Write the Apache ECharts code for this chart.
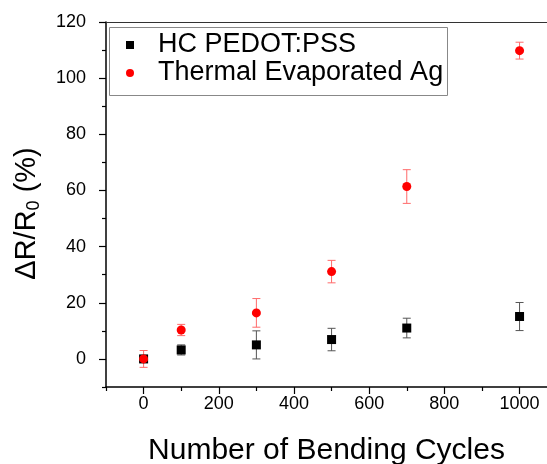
<!DOCTYPE html>
<html>
<head>
<meta charset="utf-8">
<script src="https://cdn.jsdelivr.net/npm/echarts@6/dist/echarts.min.js"></script>
<style>
  html, body { margin: 0; padding: 0; background: #fff; }
  #chart { width: 547px; height: 464px; }
</style>
</head>
<body>
<div id="chart"></div>
<script>
// 数据
const cycles = [0, 100, 300, 500, 700, 1000]
const pedot = [0, 3.2, 5.0, 6.9, 11.0, 15.1]
const pedotErr = [1.0, 1.8, 5.0, 4.0, 3.5, 5.0]
const ag = [0, 10.3, 16.4, 31.1, 61.4, 109.8]
const agErr = [3.0, 2.0, 5.1, 4.0, 6.0, 3.0]
const xTicks = [0, 200, 400, 600, 800, 1000]
const xMinor = [-100, 100, 300, 500, 700, 900]
const yTicks = [0, 20, 40, 60, 80, 100, 120]
const yMinor = [-10, 10, 30, 50, 70, 90, 110]
const names = ['HC PEDOT:PSS', 'Thermal Evaporated Ag']

const font = '"Liberation Sans", Arial, sans-serif'
const chart = echarts.init(document.getElementById('chart'))

// 误差棒
const errSeries = (vals, errs, color) => ({
    type: 'custom',
    silent: true,
    z: 1,
    data: cycles.map((c, i) => [c, vals[i], errs[i]]),
    renderItem: (params, api) => {
        const x = api.value(0), y = api.value(1), e = api.value(2)
        const lo = api.coord([x, y - e])
        const hi = api.coord([x, y + e])
        const w = 4
        const style = { stroke: color, lineWidth: 1 }
        return {
            type: 'group',
            children: [
                { type: 'line', shape: { x1: lo[0], y1: lo[1], x2: hi[0], y2: hi[1] }, style },
                { type: 'line', shape: { x1: lo[0] - w, y1: lo[1], x2: lo[0] + w, y2: lo[1] }, style },
                { type: 'line', shape: { x1: hi[0] - w, y1: hi[1], x2: hi[0] + w, y2: hi[1] }, style }
            ]
        }
    }
})

// 右边界被裁掉，max 取到画布边缘
const baseX = { type: 'value', min: -100, max: 1073, gridIndex: 0 }
const baseY = { type: 'value', min: -10, max: 120, gridIndex: 0 }
const plain = v => String(v)

const option = {
    animation: false,
    grid: { left: 106, top: 22, right: 0, bottom: 77, outerBoundsMode: 'none', containLabel: false },
    legend: {
        orient: 'vertical',
        left: 126, top: 31,
        padding: 0,
        itemGap: 0,
        itemWidth: 34,
        itemHeight: 8,
        symbolKeepAspect: true,
        data: [
            { name: names[0], icon: 'path://M0,0H1V1H0Z' },
            { name: names[1], icon: 'circle' }
        ],
        textStyle: { fontFamily: font, fontSize: 27, color: '#000', lineHeight: 28, padding: [0, 0, 0, 6] }
    },
    graphic: [{
        type: 'rect',
        shape: { x: 109.5, y: 27.5, width: 338, height: 68 },
        style: { fill: 'none', stroke: '#888', lineWidth: 1 },
        z: 5
    }],
    xAxis: [
        Object.assign({}, baseX, {
            name: 'Number of Bending Cycles',
            nameLocation: 'middle',
            nameGap: 49,
            nameTextStyle: { fontFamily: font, fontSize: 30, color: '#000' },
            splitLine: { show: false },
            axisLine: { show: true, onZero: false, lineStyle: { color: '#000', width: 1.5 } },
            axisTick: { show: true, length: 7, customValues: xTicks, lineStyle: { color: '#000', width: 1.2 } },
            axisLabel: { customValues: xTicks, formatter: plain, margin: 8, fontFamily: font, fontSize: 18, color: '#000' }
        }),
        Object.assign({}, baseX, {
            position: 'bottom',
            splitLine: { show: false },
            axisLine: { show: false, onZero: false },
            axisTick: { show: true, length: 4, customValues: xMinor, lineStyle: { color: '#000', width: 1.2 } },
            axisLabel: { show: false }
        }),
        // 顶部边框
        Object.assign({}, baseX, {
            position: 'top',
            splitLine: { show: false },
            axisLine: { show: true, onZero: false, lineStyle: { color: '#333', width: 1.2 } },
            axisTick: { show: false },
            axisLabel: { show: false }
        })
    ],
    yAxis: [
        Object.assign({}, baseY, {
            name: '{a|ΔR/R}{s|0}{a| (%)}',
            nameLocation: 'middle',
            nameGap: 62,
            nameTextStyle: {
                padding: [0, 18, 0, 0],
                rich: {
                    a: { fontFamily: font, fontSize: 29, color: '#000', lineHeight: 34 },
                    s: { fontFamily: font, fontSize: 18, color: '#000', lineHeight: 34, padding: [14, 0, 0, 0] }
                }
            },
            splitLine: { show: false },
            axisLine: { show: true, onZero: false, lineStyle: { color: '#000', width: 1.5 } },
            axisTick: { show: true, length: 7, customValues: yTicks, lineStyle: { color: '#000', width: 1.2 } },
            axisLabel: { customValues: yTicks, margin: 20, fontFamily: font, fontSize: 18, color: '#000' }
        }),
        Object.assign({}, baseY, {
            position: 'left',
            splitLine: { show: false },
            axisLine: { show: false, onZero: false },
            axisTick: { show: true, length: 4, customValues: yMinor, lineStyle: { color: '#000', width: 1.2 } },
            axisLabel: { show: false }
        })
    ],
    series: [
        errSeries(pedot, pedotErr, '#555'),
        errSeries(ag, agErr, '#ff6a6a'),
        {
            name: names[0],
            type: 'scatter',
            symbol: 'rect',
            symbolSize: 9,
            itemStyle: { color: '#000', opacity: 1 },
            z: 3,
            data: cycles.map((c, i) => [c, pedot[i]])
        },
        {
            name: names[1],
            type: 'scatter',
            symbol: 'circle',
            symbolSize: 9,
            itemStyle: { color: '#ff0000', opacity: 1 },
            z: 4,
            data: cycles.map((c, i) => [c, ag[i]])
        }
    ]
}
chart.setOption(option)
</script>
</body>
</html>
